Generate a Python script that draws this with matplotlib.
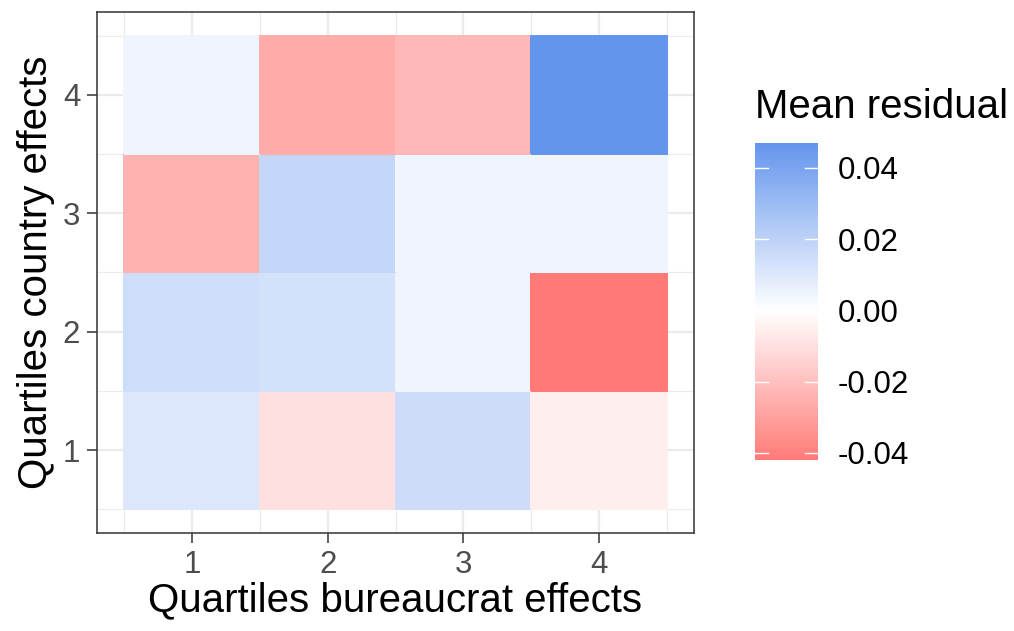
import numpy as np
import matplotlib
matplotlib.use("Agg")
import matplotlib.pyplot as plt
from matplotlib.colors import LinearSegmentedColormap, Normalize

plt.rcParams["font.family"] = ["Liberation Sans", "DejaVu Sans"]

# ── Datos ────────────────────────────────────────────────────────────────────
quartiles_bureaucrat = [1, 2, 3, 4]
quartiles_country = [1, 2, 3, 4]

# mean residual, filas = cuartil país (1..4), columnas = cuartil burócrata (1..4)
resid_country_1 = [0.0103, -0.0098, 0.0152, -0.0054]
resid_country_2 = [0.0149, 0.0130, 0.0045, -0.0420]
resid_country_3 = [-0.0241, 0.0179, 0.0050, 0.0045]
resid_country_4 = [0.0045, -0.0264, -0.0225, 0.0470]

cbar_ticks = [-0.04, -0.02, 0.00, 0.02, 0.04]

valores = np.array([resid_country_1, resid_country_2,
                    resid_country_3, resid_country_4])

# ── Figura ───────────────────────────────────────────────────────────────────
fig = plt.figure(figsize=(10.14, 6.31), dpi=100)
ax = fig.add_axes([0.0957, 0.1553, 0.5888, 0.8257])

vmax = np.abs(valores).max()
cmap = LinearSegmentedColormap.from_list(
    "resid", [(0.0, "#FF6B68"), (0.5, "#FFFFFF"), (1.0, "#6495ED")])
norm = Normalize(vmin=-vmax, vmax=vmax)

x_edges = np.append(np.array(quartiles_bureaucrat) - 0.5, quartiles_bureaucrat[-1] + 0.5)
y_edges = np.append(np.array(quartiles_country) - 0.5, quartiles_country[-1] + 0.5)
mesh = ax.pcolormesh(x_edges, y_edges, valores, cmap=cmap, norm=norm,
                     edgecolor="face", linewidth=0.3, zorder=2)

ax.set_xlim(0.3, 4.7)
ax.set_ylim(0.3, 4.7)
ax.set_xticks(quartiles_bureaucrat)
ax.set_yticks(quartiles_country)
ax.set_xticks(np.arange(0.5, 5, 1), minor=True)
ax.set_yticks(np.arange(0.5, 5, 1), minor=True)
ax.grid(which="major", color="#EBEBEB", linewidth=1.6, zorder=0)
ax.grid(which="minor", color="#EBEBEB", linewidth=0.8, zorder=0)
ax.set_axisbelow(True)

ax.tick_params(axis="both", which="major", length=7.5, width=1.1, color="#333333",
               labelsize=22.5, labelcolor="#4D4D4D", pad=4.5)
ax.tick_params(axis="both", which="minor", length=0)
for s in ax.spines.values():
    s.set_color("#333333")
    s.set_linewidth(1.1)

ax.set_xlabel("Quartiles bureaucrat effects", fontsize=29, labelpad=1)
ax.set_ylabel("Quartiles country effects", fontsize=29, labelpad=6)

# ── Leyenda de color ─────────────────────────────────────────────────────────
cax = fig.add_axes([0.7446, 0.271, 0.0621, 0.5024])
cb = fig.colorbar(mesh, cax=cax)
cb.outline.set_visible(False)
cax.set_ylim(valores.min(), valores.max())
cb.set_ticks(cbar_ticks)
cb.set_ticklabels([f"{t:.2f}" for t in cbar_ticks])
cax.tick_params(length=0, labelsize=22.5, labelcolor="black", pad=14)
for t in cbar_ticks:
    cax.plot([0, 0.2], [t, t], color="white", linewidth=1, transform=cax.get_yaxis_transform())
    cax.plot([0.8, 1.0], [t, t], color="white", linewidth=1, transform=cax.get_yaxis_transform())
fig.text(0.7446, 0.813, "Mean residual", fontsize=29, ha="left", va="baseline")

fig.savefig("out.png", dpi=100)
